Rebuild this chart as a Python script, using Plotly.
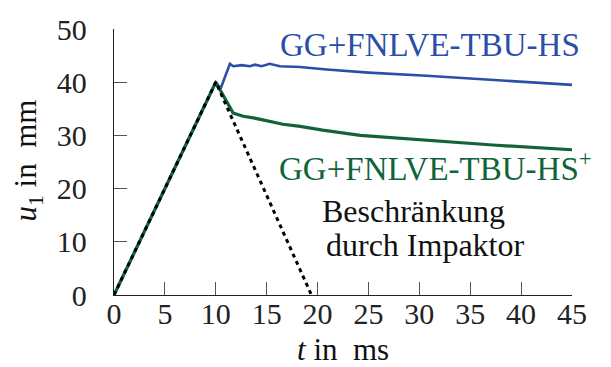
import plotly.graph_objects as go

# Time (ms) and displacement u1 (mm)
t_impactor = [0, 10, 19.4]
u_impactor = [0, 40, 0]

t_hs = [0, 10, 10.48, 11.39, 11.71, 12.54, 13.35, 13.85, 14.5, 15.3, 16.3,
        18.26, 20.9, 25.0, 30.7, 37.2, 45.0]
u_hs = [0, 40, 38.8, 43.45, 43.0, 43.2, 43.0, 43.3, 43.0, 43.45, 43.0,
        42.85, 42.4, 41.8, 41.2, 40.4, 39.5]

t_hs_plus = [0, 10, 11.71, 12.7, 13.68, 15.0, 16.6, 18.3, 20.5, 24.2, 30.7,
             37.2, 45.0]
u_hs_plus = [0, 40, 34.2, 33.6, 33.3, 32.7, 32.1, 31.7, 31.0, 30.0, 29.1,
             28.2, 27.3]

x_ticks = [0, 5, 10, 15, 20, 25, 30, 35, 40, 45]
y_ticks = [0, 10, 20, 30, 40, 50]

BLUE = "#2b4ea8"
GREEN = "#11643a"
SERIF = "Liberation Serif"

W, H = 611, 367
L, R, T, B = 114, 39, 20, 72

fig = go.Figure()
fig.add_trace(go.Scatter(x=t_hs, y=u_hs, mode="lines",
                         line=dict(color=BLUE, width=2.6), hoverinfo="skip"))
fig.add_trace(go.Scatter(x=t_hs_plus, y=u_hs_plus, mode="lines",
                         line=dict(color=GREEN, width=3.2), hoverinfo="skip"))
fig.add_trace(go.Scatter(x=t_impactor, y=u_impactor, mode="lines",
                         line=dict(color="black", width=3, dash="4px,4px"),
                         hoverinfo="skip"))

axis_common = dict(
    showgrid=False, zeroline=False, showline=True, linecolor="#222",
    linewidth=1.3, ticks="inside", ticklen=13, tickwidth=1.2,
    tickcolor="#555", tickfont=dict(family=SERIF, size=30, color="#222"),
    mirror=False,
)
fig.update_xaxes(range=[0, 45], tickvals=x_ticks, ticklabelstandoff=-8,
                 **axis_common)
fig.update_yaxes(range=[0, 50], tickvals=y_ticks, ticklabelstandoff=20,
                 **axis_common)


def px_x(p):
    return (p - L) / (W - L - R)


def px_y(p):
    return (H - B - p) / (H - T - B)


annotations = [
    dict(text="GG+FNLVE-TBU-HS", x=px_x(278), y=px_y(37), xanchor="left",
         yanchor="middle", font=dict(family=SERIF, size=33, color=BLUE)),
    dict(text="GG+FNLVE-TBU-HS<sup>+</sup>", x=px_x(277), y=px_y(162),
         xanchor="left", yanchor="middle",
         font=dict(family=SERIF, size=33, color=GREEN)),
    dict(text="Beschränkung", x=px_x(413), y=px_y(208), xanchor="center",
         yanchor="middle", font=dict(family=SERIF, size=32, color="#111")),
    dict(text="durch Impaktor", x=px_x(425), y=px_y(243), xanchor="center",
         yanchor="middle", font=dict(family=SERIF, size=32, color="#111")),
    dict(text="<i>t</i> in\u00a0\u00a0ms", x=px_x(343), y=px_y(351),
         xanchor="center", yanchor="middle",
         font=dict(family=SERIF, size=31, color="#111")),
    dict(text="<i>u</i><sub>1</sub> in\u00a0\u00a0mm", x=px_x(28), y=px_y(156),
         xanchor="center", yanchor="middle", textangle=-90,
         font=dict(family=SERIF, size=31, color="#111")),
]
for a in annotations:
    a.update(xref="paper", yref="paper", showarrow=False)

fig.update_layout(
    width=W, height=H, margin=dict(l=L, r=R, t=T, b=B),
    paper_bgcolor="white", plot_bgcolor="white", showlegend=False,
    annotations=annotations,
)

fig.write_html("out.html", config={"displayModeBar": False})
